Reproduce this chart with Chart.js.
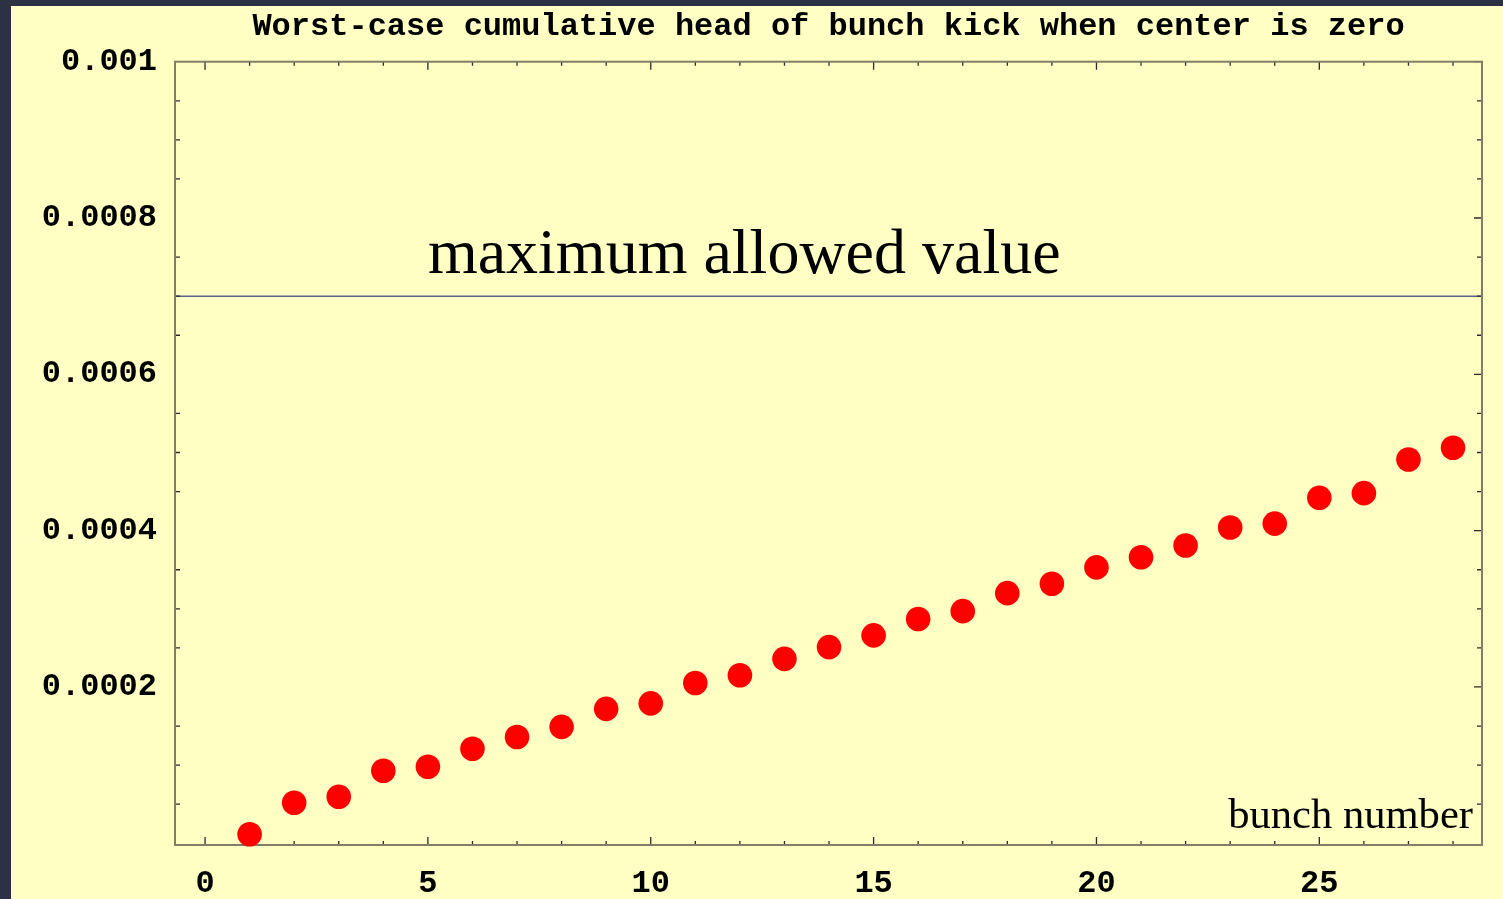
<!DOCTYPE html>
<html><head><meta charset="utf-8">
<script src="https://cdn.jsdelivr.net/npm/chart.js@4.4.1/dist/chart.umd.min.js"></script>
<style>
html,body{margin:0;padding:0;background:#2c3244;width:1503px;height:899px;overflow:hidden}
#panel{position:absolute;left:11px;top:6px;width:1492px;height:893px;background:#ffffc3}
canvas{display:block}
</style></head><body>
<div id="panel"><canvas id="c" width="1492" height="893"></canvas></div>
<script>
const titleText = 'Worst-case cumulative head of bunch kick when center is zero';
const bunchNumbers = [1,2,3,4,5,6,7,8,9,10,11,12,13,14,15,16,17,18,19,20,21,22,23,24,25,26,27,28];
const kickValues = [0.0000115,0.0000519,0.0000596,0.0000928,0.0000980,0.000121,0.000136,0.000149,0.000172,0.000179,
  0.000205,0.000215,0.000236,0.000251,0.000266,0.000287,0.000297,0.000320,0.000332,0.000353,
  0.000366,0.000381,0.000404,0.000409,0.000442,0.000448,0.000491,0.000506];
const xTickValues = [0,5,10,15,20,25];
const xTickLabels = ['0','5','10','15','20','25'];
const yTickValues = [0.0002,0.0004,0.0006,0.0008,0.001];
const yTickLabels = ['0.0002','0.0004','0.0006','0.0008','0.001'];
const maxAllowedValue = 0.0007;
const maxAllowedLabel = 'maximum allowed value';
const maxAllowedLabelX = 5;
const xAxisLabel = 'bunch number';

const monoFont = {family:"'Liberation Mono','Courier New',monospace", size:32, weight:'bold', lineHeight:1.2};

const framePlugin = {
  id:'frame',
  beforeDatasetsDraw(chart){
    const {ctx, chartArea:a, scales:{x,y}} = chart;
    ctx.save();
    // limit line
    const ly = y.getPixelForValue(maxAllowedValue);
    ctx.strokeStyle='#5c6390'; ctx.lineWidth=1.5;
    ctx.beginPath(); ctx.moveTo(a.left,ly); ctx.lineTo(a.right,ly); ctx.stroke();
    // tick marks (inward)
    ctx.strokeStyle='#2a2a2a'; ctx.lineWidth=1.3;
    ctx.beginPath();
    for (let i=Math.ceil(x.min); i<=Math.floor(x.max); i++){
      const px = x.getPixelForValue(i);
      const len = (i%5===0) ? 8 : 4;
      ctx.moveTo(px,a.bottom); ctx.lineTo(px,a.bottom-len);
      ctx.moveTo(px,a.top); ctx.lineTo(px,a.top+len);
    }
    for (let k=1; k<=20; k++){
      const v = k*0.00005;
      const py = y.getPixelForValue(v);
      const major = (k%4===0);
      ctx.moveTo(a.right,py); ctx.lineTo(a.right-(major?8:5),py);
      if(!major){ ctx.moveTo(a.left,py); ctx.lineTo(a.left+5,py); }
    }
    ctx.stroke();
    // frame
    ctx.strokeStyle='#807e66'; ctx.lineWidth=2;
    ctx.strokeRect(a.left,a.top,a.right-a.left,a.bottom-a.top);
    // annotations
    ctx.fillStyle='#000';
    ctx.textBaseline='alphabetic';
    ctx.font="64px 'Liberation Serif','Times New Roman',serif";
    ctx.textAlign='left';
    ctx.fillText(maxAllowedLabel, x.getPixelForValue(maxAllowedLabelX), ly-23);
    ctx.font="42.6px 'Liberation Serif','Times New Roman',serif";
    ctx.textAlign='right';
    ctx.fillText(xAxisLabel, a.right-9, a.bottom-17.5);
    ctx.restore();
  }
};

new Chart(document.getElementById('c'), {
  type:'scatter',
  data:{ datasets:[{
    data: bunchNumbers.map((b,i)=>({x:b, y:kickValues[i]})),
    backgroundColor:'#ff0000', borderWidth:0, pointRadius:12.3, pointHoverRadius:12.3, clip:false
  }]},
  options:{
    responsive:false, animation:false, devicePixelRatio:1,
    layout:{padding:{left:0,right:21,top:0,bottom:0}},
    plugins:{
      legend:{display:false}, tooltip:{enabled:false},
      title:{display:true, text:titleText, color:'#000', fullSize:false, font:monoFont, padding:{top:2,bottom:15.3}}
    },
    scales:{
      x:{type:'linear', min:-0.674, max:28.65,
        grid:{display:false, drawTicks:false, tickLength:0}, border:{display:false},
        afterBuildTicks:s=>{ s.ticks = xTickValues.map(v=>({value:v})); },
        afterFit:s=>{ s.height = 54; },
        ticks:{autoSkip:false, maxRotation:0, color:'#000', font:monoFont, padding:20,
          callback:(v,i)=>xTickLabels[i]}
      },
      y:{type:'linear', min:-0.0000022, max:0.001,
        grid:{display:false, drawTicks:false, tickLength:0}, border:{display:false},
        afterBuildTicks:s=>{ s.ticks = yTickValues.map(v=>({value:v})); },
        afterFit:s=>{ s.width = 164; },
        ticks:{autoSkip:false, color:'#000', font:monoFont, padding:18,
          callback:(v,i)=>yTickLabels[i]}
      }
    }
  },
  plugins:[framePlugin]
});
</script>
</body></html>
